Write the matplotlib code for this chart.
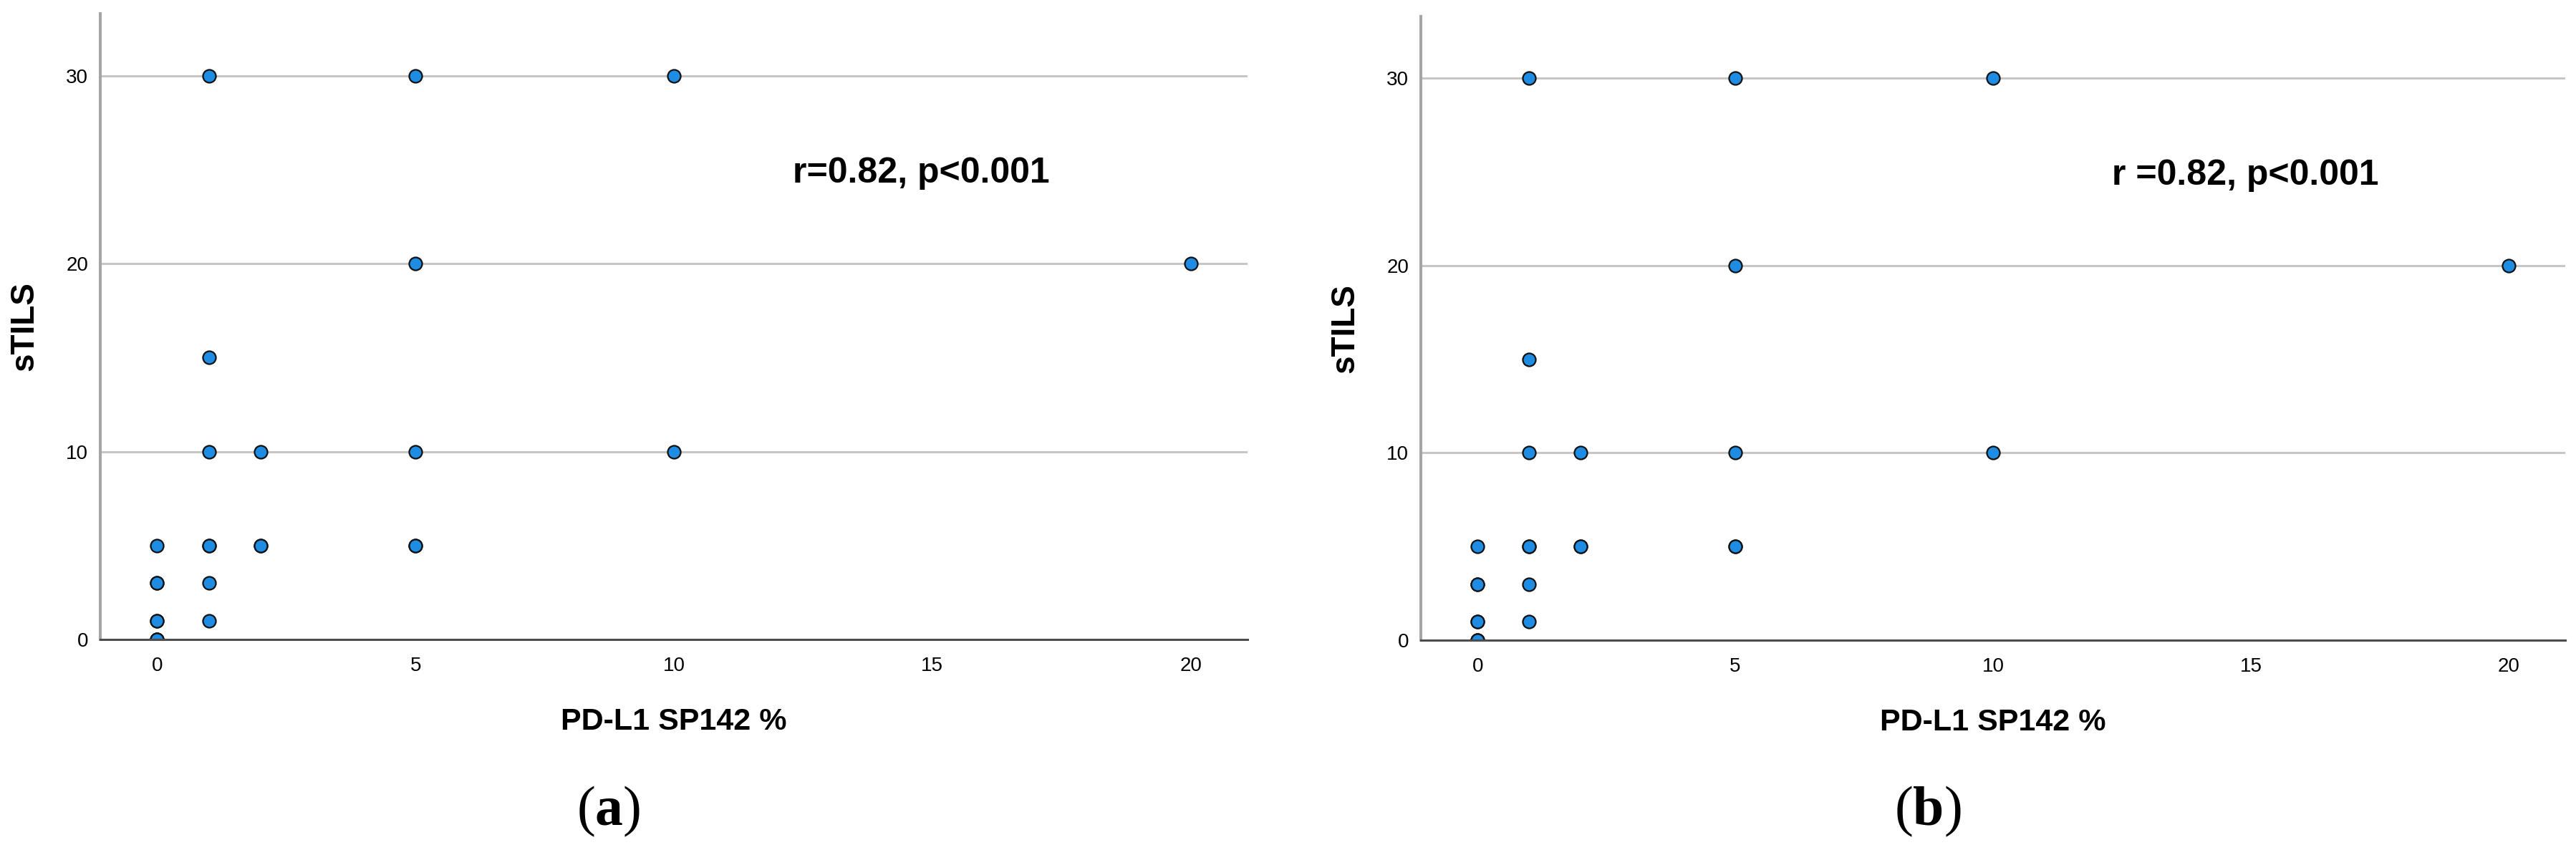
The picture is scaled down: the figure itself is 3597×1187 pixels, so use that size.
import matplotlib
matplotlib.use("Agg")
import matplotlib.pyplot as plt
from matplotlib import font_manager

# data (same cases in both panels, repeats = overlapping points)
pdl1_pct = [1, 5, 10, 5, 20, 1, 1, 2, 5, 10, 0, 1, 1, 2, 2, 5, 5, 0, 0, 1, 0, 0, 1, 0, 0, 0]
stils = [30, 30, 30, 20, 20, 15, 10, 10, 10, 10, 5, 5, 5, 5, 5, 5, 5, 3, 3, 3, 1, 1, 1, 0, 0, 0]
x_ticks = [0, 5, 10, 15, 20]
y_ticks = [0, 10, 20, 30]
panel_notes = ["r=0.82, p<0.001", "r =0.82, p<0.001"]
panel_tags = ["a", "b"]

names = {f.name for f in font_manager.fontManager.ttflist}
narrow = "Liberation Sans Narrow" if "Liberation Sans Narrow" in names else "Liberation Sans"

plt.rcParams["font.family"] = ["Liberation Sans", "DejaVu Sans"]
plt.rcParams["mathtext.fontset"] = "custom"
plt.rcParams["mathtext.rm"] = "Liberation Serif"
plt.rcParams["mathtext.bf"] = "Liberation Serif:bold"

W, H = 3597, 1187
fig = plt.figure(figsize=(W / 100, H / 100), dpi=100)

# axes boxes in pixels: left, right, top, bottom
boxes = [(140, 1742, 19, 893), (1984, 3582, 23, 894)]
tag_x = [850, 2692]

for i, (l, r, t, b) in enumerate(boxes):
    ax = fig.add_axes([l / W, 1 - b / H, (r - l) / W, (b - t) / H])
    ax.plot(pdl1_pct, stils, linestyle="none", marker="o", markersize=13,
            markerfacecolor="#1e8ce3", markeredgecolor="#111111", markeredgewidth=1.6,
            zorder=2)
    ax.set_xlim(-1.1, 21.1)
    ax.set_ylim(0, 33.3)
    ax.set_xticks(x_ticks)
    ax.set_yticks(y_ticks)
    ax.tick_params(axis="x", length=0, pad=17, labelsize=20)
    ax.tick_params(axis="y", length=0, pad=12, labelsize=20)
    ax.set_axisbelow(True)
    ax.yaxis.grid(True, color="#c6c6c6", linewidth=2.2)
    for s in ["top", "right"]:
        ax.spines[s].set_visible(False)
    ax.spines["left"].set_color("#a5a5a5")
    ax.spines["left"].set_linewidth(2.9)
    ax.spines["bottom"].set_color("#4d4d4d")
    ax.spines["bottom"].set_linewidth(2.2)
    ax.spines["bottom"].set_zorder(3)

    ax.set_xlabel("PD-L1 SP142 %", fontsize=31, fontweight="bold", va="baseline")
    ax.xaxis.set_label_coords(0.5, -126 / (b - t))
    ax.set_ylabel("sTILS", fontsize=33, fontweight="bold", family=[narrow, "DejaVu Sans"],
                  va="center")
    ax.yaxis.set_label_coords(-106 / (r - l), 0.5)

    ax.text(12.3, 24.3, panel_notes[i], fontsize=36, fontweight="bold",
            ha="left", va="baseline")

    fig.text(tag_x[i] / W, 1 - 1133 / H, "($\\mathbf{%s}$)" % panel_tags[i],
             fontsize=56, family=["Liberation Serif", "DejaVu Serif"],
             ha="center", va="center")

fig.savefig("out.png", dpi=100, facecolor="white")
